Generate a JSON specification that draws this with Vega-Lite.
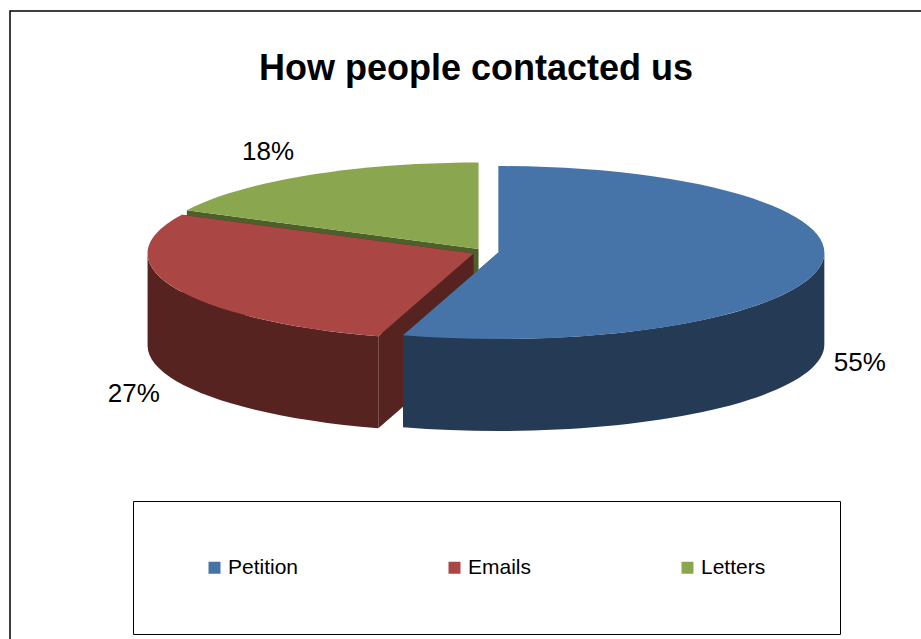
{
  "$schema": "https://vega.github.io/schema/vega-lite/v6.json",
  "width": 1000,
  "height": 700,
  "autosize": "none",
  "padding": {"left": 10, "top": 11, "right": 0, "bottom": 0},
  "background": "white",
  "view": {"stroke": "#000000", "strokeWidth": 1.5, "fill": "white"},
  "title": {
    "text": "How people contacted us",
    "font": "Liberation Sans",
    "fontSize": 36,
    "fontWeight": "bold",
    "color": "#000000",
    "anchor": "start",
    "frame": "group",
    "baseline": "alphabetic",
    "dx": 249,
    "dy": 34,
    "offset": -71
  },
  "data": {
    "values": [
      {"category": "Petition", "value": 55},
      {"category": "Emails", "value": 27},
      {"category": "Letters", "value": 18}
    ]
  },
  "transform": [
    {"window": [{"op": "sum", "field": "value", "as": "cum"}]},
    {"calculate": "(datum.cum - datum.value) / 100 * 2 * PI", "as": "a0"},
    {"calculate": "datum.cum / 100 * 2 * PI", "as": "a1"},
    {"calculate": "(datum.a0 + datum.a1) / 2", "as": "mid"},
    {"calculate": "13 * sin(datum.mid)", "as": "ex"},
    {"calculate": "3.7 * cos(datum.mid)", "as": "ey"},
    {"calculate": "datum.a0 - 0.03 * sin(2 * datum.a0)", "as": "p0"},
    {"calculate": "datum.a1 - 0.03 * sin(2 * datum.a1)", "as": "p1"},
    {"calculate": "round(326 * sin(datum.p0) * 100) / 100", "as": "x0"},
    {"calculate": "round(-86.5 * cos(datum.p0) * 100) / 100", "as": "y0"},
    {"calculate": "round(326 * sin(datum.p1) * 100) / 100", "as": "x1"},
    {"calculate": "round(-86.5 * cos(datum.p1) * 100) / 100", "as": "y1"},
    {"calculate": "max(datum.p0, PI / 2)", "as": "w0"},
    {"calculate": "min(datum.p1, 3 * PI / 2)", "as": "w1"},
    {"calculate": "round(326 * sin(datum.w0) * 100) / 100", "as": "wx0"},
    {"calculate": "round(-86.5 * cos(datum.w0) * 100) / 100", "as": "wy0"},
    {"calculate": "round(326 * sin(datum.w1) * 100) / 100", "as": "wx1"},
    {"calculate": "round(-86.5 * cos(datum.w1) * 100) / 100", "as": "wy1"},
    {"calculate": "'M0,0L' + datum.x0 + ',' + datum.y0 + 'A326,86.5,0,' + (datum.p1 - datum.p0 > PI ? 1 : 0) + ',1,' + datum.x1 + ',' + datum.y1 + 'Z'", "as": "topFace"},
    {"calculate": "'M0,0L' + datum.x0 + ',' + datum.y0 + 'L' + datum.x0 + ',' + (datum.y0 + 92) + 'L0,92ZM0,0L' + datum.x1 + ',' + datum.y1 + 'L' + datum.x1 + ',' + (datum.y1 + 92) + 'L0,92Z'", "as": "cutWalls"},
    {"calculate": "datum.w1 > datum.w0 ? 'M' + datum.wx0 + ',' + datum.wy0 + 'A326,86.5,0,0,1,' + datum.wx1 + ',' + datum.wy1 + 'L' + datum.wx1 + ',' + (datum.wy1 + 92) + 'A326,86.5,0,0,0,' + datum.wx0 + ',' + (datum.wy0 + 92) + 'Z' : 'M0,0Z'", "as": "rimWall"},
    {"calculate": "(cos(datum.mid) > 0 ? 402 : 381) * sin(datum.mid) - 2", "as": "labelX"},
    {"calculate": "(cos(datum.mid) > 0 ? 118 : 128) * cos(datum.mid) - (cos(datum.mid) > 0 ? 0 : 91)", "as": "labelY"},
    {"calculate": "datum.value + '%'", "as": "label"}
  ],
  "encoding": {
    "x": {"field": "ex", "type": "quantitative", "axis": null, "scale": {"domain": [-475.5, 524.5]}},
    "y": {"field": "ey", "type": "quantitative", "axis": null, "scale": {"domain": [-459, 241]}}
  },
  "layer": [
    {
      "mark": {"type": "point", "filled": true, "opacity": 1, "size": 4, "strokeWidth": 0},
      "encoding": {
        "shape": {"field": "cutWalls", "type": "nominal", "scale": null},
        "order": {"field": "cum", "type": "quantitative", "sort": "descending"},
        "fill": {
          "field": "category", "type": "nominal", "legend": null,
          "scale": {"domain": ["Letters", "Emails", "Petition"], "range": ["#4D5F2A", "#572321", "#243A55"]}
        }
      }
    },
    {
      "mark": {"type": "point", "filled": true, "opacity": 1, "size": 4, "strokeWidth": 0},
      "encoding": {
        "shape": {"field": "rimWall", "type": "nominal", "scale": null},
        "fill": {
          "field": "category", "type": "nominal", "legend": null,
          "scale": {"domain": ["Letters", "Emails", "Petition"], "range": ["#4D5F2A", "#572321", "#243A55"]}
        }
      }
    },
    {
      "mark": {"type": "point", "filled": true, "opacity": 1, "size": 4, "strokeWidth": 0},
      "encoding": {
        "shape": {"field": "topFace", "type": "nominal", "scale": null},
        "color": {
          "field": "category", "type": "nominal",
          "scale": {"domain": ["Petition", "Emails", "Letters"], "range": ["#4674A8", "#AA4744", "#8AA64E"]},
          "legend": {
            "title": " ",
            "titleOrient": "right",
            "titlePadding": 19,
            "orient": "none",
            "legendX": 123,
            "legendY": 490,
            "columns": 3,
            "direction": "horizontal",
            "symbolType": "square",
            "symbolSize": 144,
            "symbolStrokeWidth": 0,
            "labelFont": "Liberation Sans",
            "labelFontSize": 21,
            "labelColor": "#000000",
            "labelOffset": 3,
            "labelLimit": 200,
            "columnPadding": 130,
            "padding": 56,
            "symbolOffset": 15,
            "strokeColor": "#000000",
            "fillColor": "white"
          }
        }
      }
    },
    {
      "mark": {"type": "text", "font": "Liberation Sans", "fontSize": 26, "color": "#000000", "align": "center", "baseline": "middle"},
      "encoding": {
        "x": {"field": "labelX", "type": "quantitative"},
        "y": {"field": "labelY", "type": "quantitative"},
        "text": {"field": "label", "type": "nominal"}
      }
    }
  ]
}
